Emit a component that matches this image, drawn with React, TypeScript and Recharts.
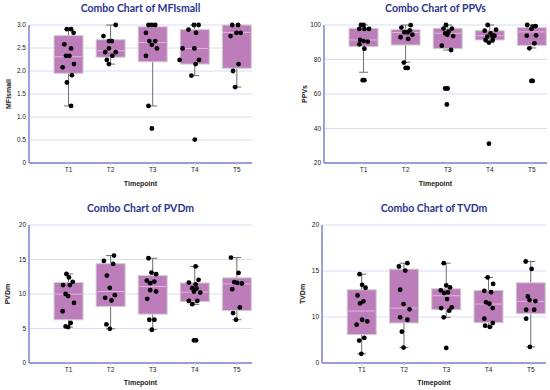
import React from 'react';
import { ComposedChart, Bar, Scatter, XAxis, YAxis, CartesianGrid } from 'recharts';

// ---------- data ----------
const timepoints = ['T1', 'T2', 'T3', 'T4', 'T5'];

// box stats per timepoint: [whiskerLow, q1, median, q3, whiskerHigh]
const mfiBoxes: number[][] = [
  [1.24, 1.95, 2.31, 2.77, 2.91],
  [2.15, 2.3, 2.44, 2.68, 3.0],
  [1.24, 2.2, 2.62, 2.96, 3.0],
  [1.9, 2.15, 2.49, 2.9, 3.0],
  [1.65, 2.06, 2.84, 3.0, 3.0],
];
// points: [x position (timepoint + jitter), value]
const mfiPoints: number[][] = [
  [0.96, 2.91], [1.06, 2.91], [1.12, 2.83], [0.9, 2.58], [1.06, 2.49], [0.94, 2.33], [1.02, 2.33], [1.13, 2.15], [0.86, 2.08], [1.08, 1.91], [0.96, 1.75], [1.06, 1.24],
  [2.12, 3.0], [1.83, 2.76], [1.96, 2.65], [2.03, 2.65], [1.96, 2.49], [1.87, 2.41], [2.12, 2.41], [2.04, 2.33], [1.91, 2.24], [1.96, 2.15],
  [2.9, 3.0], [2.98, 3.0], [3.06, 3.0], [2.84, 2.83], [2.92, 2.65], [3.06, 2.65], [2.98, 2.57], [3.1, 2.49], [2.84, 2.33], [2.9, 1.24], [2.98, 0.75],
  [3.98, 3.0], [4.09, 3.0], [3.85, 2.9], [4.03, 2.83], [3.71, 2.49], [3.99, 2.49], [3.64, 2.24], [4.1, 2.24], [4.02, 2.15], [3.92, 1.9], [4.0, 0.51],
  [4.89, 3.0], [5.03, 3.0], [4.85, 2.76], [4.99, 2.83], [5.09, 2.83], [5.04, 2.15], [4.91, 2.0], [4.96, 1.65],
];
const mfiTicks = [0, 0.5, 1, 1.5, 2, 2.5, 3];
const mfiTickLabels = ['0', '0.5', '1.0', '1.5', '2.0', '2.5', '3.0'];

const ppvBoxes: number[][] = [
  [72.6, 87.5, 91.3, 98.1, 100],
  [78.4, 88.4, 95.6, 97.3, 100],
  [85.5, 86.3, 95.2, 98.1, 100],
  [89.8, 91.3, 93.8, 96.7, 100],
  [86.7, 88.2, 96.0, 98.5, 100],
];
const ppvPoints: number[][] = [
  [0.94, 100], [1.0, 100], [0.9, 97.7], [1.02, 97.7], [1.13, 97.7], [0.92, 91.3], [1.0, 90.7], [1.1, 90.4], [0.9, 88.8], [1.02, 86.3], [0.98, 68.0], [1.02, 68.0],
  [2.12, 99.9], [1.9, 98.5], [1.97, 95.8], [2.05, 95.8], [2.1, 96.9], [2.16, 94.4], [1.88, 92.9], [2.06, 91.9], [1.96, 78.2], [2.0, 75.1], [2.05, 75.1],
  [2.96, 100], [2.9, 97.9], [3.1, 97.9], [3.02, 96.1], [2.94, 95.2], [2.99, 94.4], [3.13, 93.6], [2.86, 88.0], [3.08, 85.5], [2.94, 63.2], [3.0, 63.2], [2.98, 53.9],
  [3.95, 100], [3.88, 96.7], [4.15, 97.3], [4.02, 95.2], [3.94, 93.3], [4.06, 93.8], [4.11, 93.8], [3.9, 91.3], [4.07, 91.3], [3.98, 89.8], [3.98, 31.2],
  [4.89, 100], [5.02, 99.0], [5.09, 99.4], [4.99, 97.7], [4.88, 93.8], [5.1, 94.0], [5.06, 89.4], [4.94, 86.5], [4.99, 67.6], [5.02, 67.6],
];
const ppvTicks = [20, 40, 60, 80, 100];
const ppvTickLabels = ['20', '40', '60', '80', '100'];

const pvdBoxes: number[][] = [
  [5.2, 6.27, 9.98, 11.66, 12.9],
  [4.96, 8.2, 10.36, 14.4, 15.57],
  [4.82, 7.08, 11.08, 12.67, 15.18],
  [8.5, 8.9, 10.27, 11.6, 14.0],
  [6.27, 7.6, 11.47, 12.34, 15.28],
];
const pvdPoints: number[][] = [
  [0.95, 12.9], [1.01, 12.4], [0.87, 11.3], [1.03, 11.3], [1.1, 11.76], [0.93, 10.0], [0.99, 9.7], [1.13, 8.7], [0.86, 7.5], [1.05, 5.8], [0.93, 5.3], [0.99, 5.2],
  [2.08, 15.57], [1.84, 14.8], [2.06, 14.36], [1.91, 12.67], [1.98, 10.9], [2.1, 9.83], [1.87, 9.45], [2.02, 9.06], [1.9, 5.59], [1.98, 4.96],
  [2.9, 15.18], [2.97, 13.1], [3.08, 12.87], [2.86, 11.95], [2.94, 11.57], [3.04, 11.8], [2.94, 10.55], [3.08, 10.36], [2.87, 9.3], [2.92, 6.27], [3.04, 6.27], [2.98, 4.82],
  [4.02, 14.0], [4.09, 12.05], [3.86, 11.66], [4.02, 11.4], [3.94, 10.84], [4.04, 10.8], [3.98, 10.36], [4.13, 10.2], [3.86, 9.0], [4.06, 9.0], [3.94, 8.53], [3.98, 3.28], [4.03, 3.28],
  [4.86, 15.28], [5.04, 13.06], [4.94, 11.71], [5.01, 11.61], [5.12, 11.52], [4.89, 10.7], [5.07, 8.05], [4.91, 7.23], [4.98, 6.27],
];
const pvdTicks = [0, 5, 10, 15, 20];
const pvdTickLabels = ['0', '5', '10', '15', '20'];

const tvdBoxes: number[][] = [
  [6.0, 8.09, 10.65, 12.96, 14.66],
  [6.68, 9.35, 10.97, 15.2, 15.85],
  [9.96, 10.79, 12.31, 13.07, 15.85],
  [8.92, 9.39, 11.41, 12.89, 14.3],
  [6.75, 10.36, 11.7, 13.72, 16.03],
];
const tvdPoints: number[][] = [
  [0.95, 14.66], [1.01, 13.5], [1.09, 13.18], [0.9, 12.35], [1.04, 11.7], [0.96, 11.48], [1.01, 9.7], [1.13, 9.53], [0.88, 9.17], [1.06, 7.73], [0.94, 7.44], [0.99, 6.0],
  [2.08, 15.85], [1.88, 15.49], [2.03, 15.05], [1.91, 12.96], [1.99, 11.4], [2.13, 10.83], [1.91, 9.96], [2.08, 9.7], [1.95, 8.41], [1.99, 6.68],
  [2.94, 15.85], [3.0, 13.43], [3.09, 13.21], [2.87, 12.9], [2.95, 12.6], [3.04, 12.67], [3.02, 11.95], [2.88, 10.97], [3.13, 11.05], [3.07, 10.69], [2.94, 9.96], [3.0, 6.64],
  [3.98, 14.3], [4.11, 13.6], [3.9, 12.85], [4.06, 12.7], [3.94, 11.6], [4.02, 11.44], [4.1, 10.97], [3.9, 9.82], [4.1, 9.35], [3.92, 9.06], [4.03, 8.92],
  [4.88, 16.03], [5.02, 15.23], [4.93, 12.24], [4.97, 11.84], [5.11, 11.73], [4.89, 10.79], [5.08, 10.79], [4.89, 9.82], [4.98, 6.75],
];
const tvdTicks = [5, 10, 15, 20];
const tvdTickLabels = ['0', '10', '15', '20'];

// ---------- styling ----------
const BOX_FILL = '#bd7dbb';
const BOX_STROKE = '#cfcfcf';
const WHISKER = '#6f6f6f';
const MEDIAN = '#e2b4e0';
const AXIS = '#7c82d0';
const GRID = '#dcdcf4';
const TITLE = '#2b3590';
const TICK_FONT = '"Liberation Sans", Arial, sans-serif';
const BOX_W = 29;

const BoxShape = (props: any) => {
  const { x, y, width, height, payload } = props;
  const { lo, q1, med, q3, hi } = payload;
  const top = Math.min(y, y + height);
  const bot = Math.max(y, y + height);
  const span = hi - lo;
  const py = (v: number) => (span === 0 ? top : top + ((hi - v) / span) * (bot - top));
  const cx = x + (width || 0) / 2;
  const bx = cx - BOX_W / 2;
  const cap = 4.5;
  return (
    <g>
      <line x1={cx} x2={cx} y1={py(hi)} y2={py(lo)} stroke={WHISKER} strokeWidth={1} />
      <line x1={cx - cap} x2={cx + cap} y1={py(hi)} y2={py(hi)} stroke={WHISKER} strokeWidth={1} />
      <line x1={cx - cap} x2={cx + cap} y1={py(lo)} y2={py(lo)} stroke={WHISKER} strokeWidth={1} />
      <rect x={bx} y={py(q3)} width={BOX_W} height={Math.max(0, py(q1) - py(q3))} fill={BOX_FILL} stroke={BOX_STROKE} strokeWidth={1} />
      <line x1={bx + 1} x2={bx + BOX_W - 1} y1={py(med)} y2={py(med)} stroke={MEDIAN} strokeWidth={1} />
    </g>
  );
};

const Dot = (props: any) => <circle cx={props.cx} cy={props.cy} r={2.4} fill="#000" />;

type PanelProps = {
  left: number;
  top: number;
  plotLeft: number;
  plotRight: number;
  plotTop: number;
  plotBottom: number;
  boxes: number[][];
  points: number[][];
  ticks: number[];
  tickLabels: string[];
  title: string;
  yLabel: string;
  yLabelX: number;
  xLabelGap: number;
};

const W = 275;
const H = 195;

const Panel = (p: PanelProps) => {
  const data = p.boxes.map((b, i) => ({
    x: i + 1,
    name: timepoints[i],
    range: [b[0], b[4]],
    lo: b[0],
    q1: b[1],
    med: b[2],
    q3: b[3],
    hi: b[4],
  }));
  const pts = p.points.map((q) => ({ x: q[0], y: q[1] }));
  const plotCx = (p.plotLeft + p.plotRight) / 2;
  const plotCy = (p.plotTop + p.plotBottom) / 2;
  return (
    <div style={{ position: 'absolute', left: p.left, top: p.top, width: W, height: H }}>
      <ComposedChart
        width={W}
        height={H}
        data={data}
        margin={{ top: p.plotTop, right: W - p.plotRight, bottom: 0, left: 0 }}
      >
        <CartesianGrid vertical={false} stroke={GRID} strokeWidth={1} />
        <XAxis
          dataKey="x"
          type="number"
          domain={[0.06, 5.36]}
          allowDataOverflow
          ticks={[1, 2, 3, 4, 5]}
          tickFormatter={(v: number) => timepoints[Math.round(v) - 1]}
          height={H - p.plotBottom}
          stroke={AXIS}
          strokeWidth={1.5}
          tickLine={{ stroke: '#c8c8c8' }}
          tickSize={2}
          tickMargin={2}
          tick={{ fontSize: 6.5, fill: '#222', fontFamily: TICK_FONT }}
        />
        <YAxis
          type="number"
          domain={[p.ticks[0], p.ticks[p.ticks.length - 1]]}
          ticks={p.ticks}
          interval={0}
          tickFormatter={(v: number) => p.tickLabels[p.ticks.indexOf(v)] ?? String(v)}
          width={p.plotLeft}
          stroke={AXIS}
          strokeWidth={1.5}
          tickLine={false}
          tickSize={0}
          tickMargin={3}
          tick={{ fontSize: 6.5, fill: '#222', fontFamily: TICK_FONT }}
        />
        <Bar dataKey="range" barSize={BOX_W} shape={BoxShape} isAnimationActive={false} />
        <Scatter data={pts} dataKey="y" shape={Dot} isAnimationActive={false} />
      </ComposedChart>
      <div
        style={{
          position: 'absolute',
          left: plotCx,
          top: p.plotTop - 17,
          transform: 'translate(-50%, -50%)',
          whiteSpace: 'nowrap',
          fontFamily: 'Lato, "Noto Sans", sans-serif',
          fontWeight: 700,
          fontSize: 10.5,
          color: TITLE,
        }}
      >
        {p.title}
      </div>
      <div
        style={{
          position: 'absolute',
          left: plotCx,
          top: p.plotBottom + p.xLabelGap,
          transform: 'translate(-50%, -50%)',
          whiteSpace: 'nowrap',
          fontFamily: TICK_FONT,
          fontWeight: 700,
          fontSize: 7,
          color: '#222',
        }}
      >
        Timepoint
      </div>
      <div
        style={{
          position: 'absolute',
          left: p.yLabelX,
          top: plotCy,
          transform: 'translate(-50%, -50%) rotate(-90deg)',
          whiteSpace: 'nowrap',
          fontFamily: TICK_FONT,
          fontWeight: 700,
          fontSize: 7,
          color: '#222',
        }}
      >
        {p.yLabel}
      </div>
    </div>
  );
}

export default function App() {
  return (
    <div style={{ position: 'absolute', left: 0, top: 0, width: 550, height: 390, background: '#fff', overflow: 'hidden' }}>
      <Panel left={0} top={0} plotLeft={29} plotRight={252} plotTop={25} plotBottom={163}
        boxes={mfiBoxes} points={mfiPoints} ticks={mfiTicks} tickLabels={mfiTickLabels}
        title="Combo Chart of MFIsmall" yLabel="MFIsmall" yLabelX={8} xLabelGap={20} />
      <Panel left={275} top={0} plotLeft={49} plotRight={272} plotTop={25} plotBottom={163}
        boxes={ppvBoxes} points={ppvPoints} ticks={ppvTicks} tickLabels={ppvTickLabels}
        title="Combo Chart of PPVs" yLabel="PPVs" yLabelX={29} xLabelGap={20} />
      <Panel left={0} top={195} plotLeft={29} plotRight={252} plotTop={30} plotBottom={168}
        boxes={pvdBoxes} points={pvdPoints} ticks={pvdTicks} tickLabels={pvdTickLabels}
        title="Combo Chart of PVDm" yLabel="PVDm" yLabelX={7} xLabelGap={18.5} />
      <Panel left={275} top={195} plotLeft={47} plotRight={271} plotTop={30} plotBottom={168}
        boxes={tvdBoxes} points={tvdPoints} ticks={tvdTicks} tickLabels={tvdTickLabels}
        title="Combo Chart of TVDm" yLabel="TVDm" yLabelX={27} xLabelGap={18.5} />
    </div>
  );
}
